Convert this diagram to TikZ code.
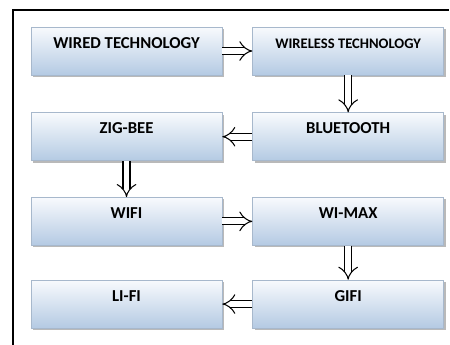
\documentclass[tikz,border=0pt]{standalone}
\usepackage{fontspec}
\setmainfont{Carlito}
\usetikzlibrary{positioning}
\usetikzlibrary{shadows}
\usetikzlibrary{arrows.meta}

\definecolor{boxtop}{HTML}{F8FAFD}
\definecolor{boxbot}{HTML}{B4CAE3}
\definecolor{boxline}{HTML}{A7B8CC}

\tikzset{
  techbox/.style={draw=boxline, top color=boxtop, bottom color=boxbot,
    minimum width=3.82cm, minimum height=0.96cm,
    text height=0.2cm, text depth=0.32cm,
    font=\fontsize{9.5}{11}\selectfont\bfseries,
    drop shadow={shadow xshift=0.04cm, shadow yshift=-0.04cm, fill=gray!55, opacity=1}},
  flow/.style={double, double distance=3.4pt, line width=0.6pt, -{Implies}}
}

\begin{document}
\begin{tikzpicture}[x=0.02cm, y=-0.02cm]
  \useasboundingbox (0,0) rectangle (450,345);
  \draw[line width=1.1pt] (13,345) -- (13,10) -- (449,10);

  \node [techbox] (wired) at (126.5,51) {WIRED TECHNOLOGY};
  \node [techbox, right=0.6cm of wired, font=\fontsize{8.3}{10}\selectfont\bfseries] (wless) {WIRELESS TECHNOLOGY};
  \node [techbox, below=0.74cm of wless] (bt) {BLUETOOTH};
  \node [techbox, left=0.6cm of bt] (zig) {ZIG-BEE};
  \node [techbox, below=0.72cm of zig] (wifi) {WIFI};
  \node [techbox, right=0.6cm of wifi] (wimax) {WI-MAX};
  \node [techbox, below=0.68cm of wimax] (gifi) {GIFI};
  \node [techbox, left=0.6cm of gifi] (lifi) {LI-FI};

  \draw [flow] (wired) -- (wless);
  \draw [flow] (wless) -- (bt);
  \draw [flow] (bt) -- (zig);
  \draw [flow] (zig) -- (wifi);
  \draw [flow] (wifi) -- (wimax);
  \draw [flow] (wimax) -- (gifi);
  \draw [flow] (gifi) -- (lifi);

\end{tikzpicture}
\end{document}
